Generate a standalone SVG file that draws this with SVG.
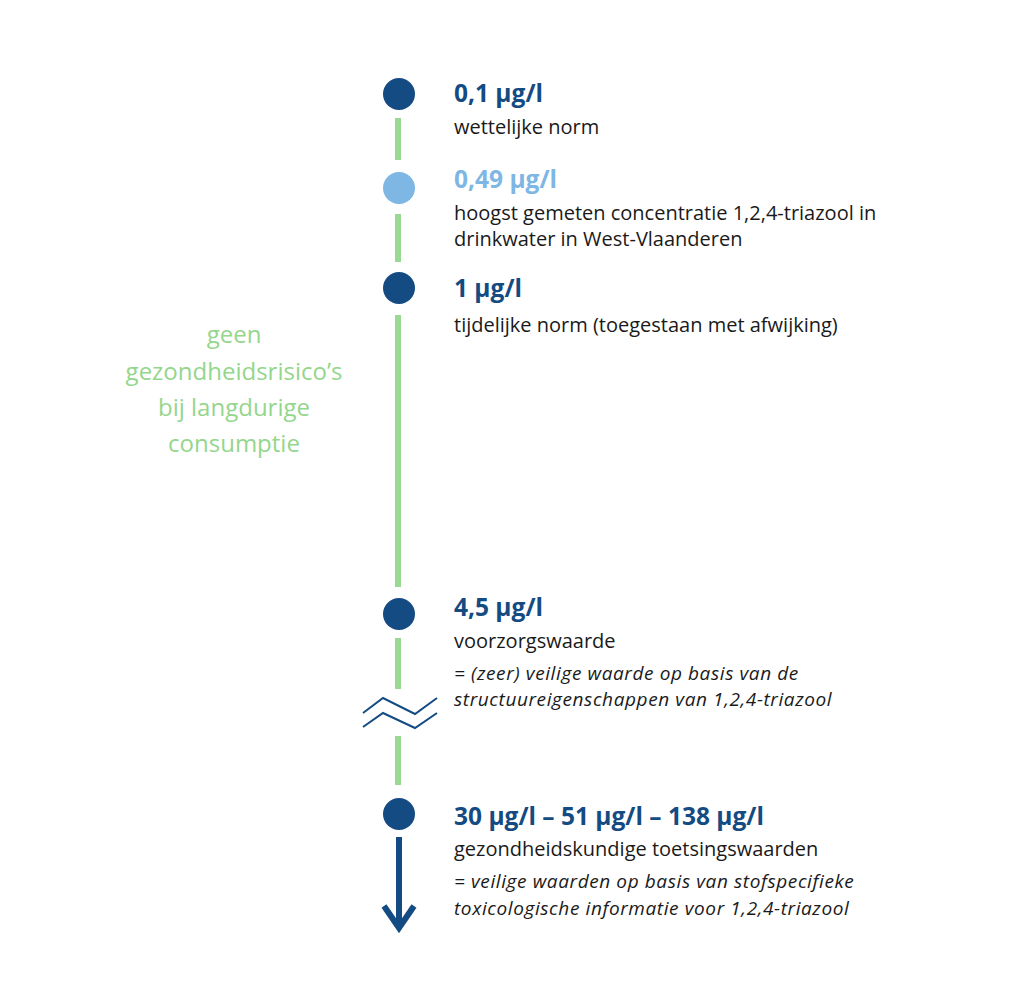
<svg xmlns="http://www.w3.org/2000/svg" width="1020" height="1000" viewBox="0 0 1020 1000">
<style>
.dot{fill:#144b82}
.dot2{fill:#7eb6e4}
.seg{stroke:#99d991;stroke-width:6;fill:none}
.val{font-family:"Open Sans","Liberation Sans",sans-serif;font-weight:700;font-size:24.5px;fill:#144b82}
.val2{fill:#7eb6e4}
.lbl{font-family:"Open Sans","Liberation Sans",sans-serif;font-size:20px;fill:#1a1a1a}
.it{font-style:italic;font-size:19px;letter-spacing:0.6px}
.side{font-family:"Open Sans","Liberation Sans",sans-serif;font-size:24px;font-weight:500;fill:#94d68c;text-anchor:middle}
</style>
<rect width="1020" height="1000" fill="#fff"/>
<g id="connectors">
<line class="seg" x1="398" y1="118" x2="398" y2="160"/>
<line class="seg" x1="398" y1="214" x2="398" y2="262"/>
<line class="seg" x1="398" y1="315" x2="398" y2="587"/>
<line class="seg" x1="398" y1="638" x2="398" y2="689"/>
<line class="seg" x1="398" y1="736" x2="398" y2="785"/>
<g id="break" fill="none" stroke="#144b82" stroke-width="2">
<polyline points="363,713 383,698 415,714 437,698"/>
<polyline points="363,727 383,713 415,728 437,713"/>
</g>
<g id="arrow" fill="none" stroke="#144b82" stroke-width="6">
<line x1="399" y1="837" x2="399" y2="926"/>
<polyline points="384,906 399,928 414,906"/>
</g>
</g>
<g id="node1"><circle class="dot" cx="399" cy="94" r="16"/>
<text class="val" x="454" y="102">0,1 µg/l</text>
<text class="lbl" x="454" y="134">wettelijke norm</text></g>
<g id="node2"><circle class="dot2" cx="399" cy="188" r="16"/>
<text class="val val2" x="454" y="188">0,49 µg/l</text>
<text class="lbl" x="454" y="220">hoogst gemeten concentratie 1,2,4-triazool in</text>
<text class="lbl" x="454" y="246">drinkwater in West-Vlaanderen</text></g>
<g id="node3"><circle class="dot" cx="399" cy="288" r="16"/>
<text class="val" x="454" y="297">1 µg/l</text>
<text class="lbl" x="454" y="332">tijdelijke norm (toegestaan met afwijking)</text></g>
<g id="node4"><circle class="dot" cx="399" cy="614" r="16"/>
<text class="val" x="454" y="616">4,5 µg/l</text>
<text class="lbl" x="454" y="648">voorzorgswaarde</text>
<text class="lbl it" x="454" y="680">= (zeer) veilige waarde op basis van de</text>
<text class="lbl it" x="454" y="706">structuureigenschappen van 1,2,4-triazool</text></g>
<g id="node5"><circle class="dot" cx="399" cy="814" r="16"/>
<text class="val" x="454" y="825">30 µg/l – 51 µg/l – 138 µg/l</text>
<text class="lbl" x="454" y="856">gezondheidskundige toetsingswaarden</text>
<text class="lbl it" x="454" y="888">= veilige waarden op basis van stofspecifieke</text>
<text class="lbl it" x="454" y="915">toxicologische informatie voor 1,2,4-triazool</text></g>
<g id="side-label">
<text class="side" x="234" y="343">geen</text>
<text class="side" x="234" y="380">gezondheidsrisico’s</text>
<text class="side" x="234" y="416">bij langdurige</text>
<text class="side" x="234" y="452">consumptie</text>
</g>
</svg>
